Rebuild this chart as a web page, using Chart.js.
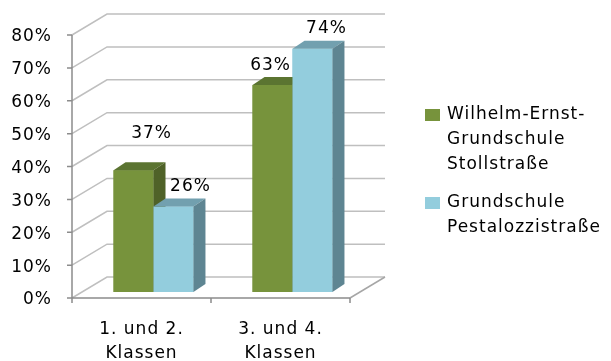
<!DOCTYPE html>
<html>
<head>
<meta charset="utf-8">
<script src="https://cdn.jsdelivr.net/npm/chart.js@4.4.1/dist/chart.umd.min.js"></script>
<style>
  html, body { margin: 0; padding: 0; background: #fff; }
</style>
</head>
<body>
<canvas id="chart" width="611" height="361"></canvas>
<script>
// data
const categories = [['1. und 2.', 'Klassen'], ['3. und 4.', 'Klassen']];
const seriesNames = [['Wilhelm-Ernst-', 'Grundschule', 'Stollstraße'], ['Grundschule', 'Pestalozzistraße']];
const wilhelmErnst = [37, 63];
const pestalozzi = [26, 74];
const yTicks = [0, 10, 20, 30, 40, 50, 60, 70, 80];

const FONT = 'DejaVu Sans';
const WALL = { x: 35, y: -21 };   // depth of the back wall
const BAR_SHIFT = { x: 12, y: -6 }; // bars sit a bit behind the front plane
const BAR_DEPTH = { x: 12, y: -8 };
const colors = [
  { front: '#77933C', top: '#5B7431', side: '#4F6228' },
  { front: '#93CDDD', top: '#72A0AF', side: '#5E8592' }
];
// small nudges for the value labels, like excel placed them
const labelNudge = [[[3, -17], [2, 0]], [[-17, 1], [-1, 0]]];

const frame3d = {
  id: 'frame3d',
  beforeDraw(chart) {
    // the original text is a bit spread out
    chart.ctx.letterSpacing = '1px';
  },
  beforeDatasetsDraw(chart) {
    const { ctx, chartArea: a, scales: { x, y } } = chart;
    ctx.save();
    // back wall + left wall grid
    ctx.strokeStyle = '#BFBFBF';
    ctx.lineWidth = 1.5;
    yTicks.forEach(v => {
      const py = y.getPixelForValue(v);
      ctx.beginPath();
      ctx.moveTo(a.left, py);
      ctx.lineTo(a.left + WALL.x, py + WALL.y);
      ctx.lineTo(a.right + WALL.x, py + WALL.y);
      ctx.stroke();
    });
    // floor
    const py0 = y.getPixelForValue(0);
    ctx.strokeStyle = '#A6A6A6';
    ctx.beginPath();
    ctx.moveTo(a.right, py0);
    ctx.lineTo(a.right + WALL.x, py0 + WALL.y);
    ctx.stroke();
    // front axes
    ctx.strokeStyle = '#8C8C8C';
    ctx.beginPath();
    ctx.moveTo(a.left, y.getPixelForValue(yTicks[yTicks.length - 1]));
    ctx.lineTo(a.left, py0);
    ctx.lineTo(a.right, py0);
    yTicks.forEach(v => {
      const py = y.getPixelForValue(v);
      ctx.moveTo(a.left - 5, py);
      ctx.lineTo(a.left, py);
    });
    const step = (a.right - a.left) / categories.length;
    for (let i = 0; i <= categories.length; i++) {
      ctx.moveTo(a.left + i * step, py0);
      ctx.lineTo(a.left + i * step, py0 + 5);
    }
    ctx.stroke();
    ctx.restore();

    ctx.save();
    ctx.translate(BAR_SHIFT.x, BAR_SHIFT.y);
  },
  afterDatasetsDraw(chart) {
    const { ctx } = chart;
    // redraw per series so the later series covers the earlier side faces
    chart.data.datasets.forEach((ds, di) => {
      const c = colors[di];
      chart.getDatasetMeta(di).data.forEach(el => {
        el.draw(ctx);
        const { x, y, base, width } = el.getProps(['x', 'y', 'base', 'width'], true);
        const l = x - width / 2, r = x + width / 2;
        ctx.fillStyle = c.top;
        ctx.beginPath();
        ctx.moveTo(l, y);
        ctx.lineTo(l + BAR_DEPTH.x, y + BAR_DEPTH.y);
        ctx.lineTo(r + BAR_DEPTH.x, y + BAR_DEPTH.y);
        ctx.lineTo(r, y);
        ctx.closePath();
        ctx.fill();
        ctx.fillStyle = c.side;
        ctx.beginPath();
        ctx.moveTo(r, y);
        ctx.lineTo(r + BAR_DEPTH.x, y + BAR_DEPTH.y);
        ctx.lineTo(r + BAR_DEPTH.x, base + BAR_DEPTH.y);
        ctx.lineTo(r, base);
        ctx.closePath();
        ctx.fill();
      });
    });
    // value labels
    ctx.fillStyle = '#000';
    ctx.font = '17px "' + FONT + '"';
    ctx.textAlign = 'center';
    ctx.textBaseline = 'middle';
    chart.data.datasets.forEach((ds, di) => {
      chart.getDatasetMeta(di).data.forEach((el, i) => {
        const n = labelNudge[i][di];
        ctx.fillText(ds.data[i] + '%', el.x + 15 + n[0], el.y - 20 + n[1]);
      });
    });
    ctx.restore();
  },
  afterDraw(chart) {
    // legend on the right
    const { ctx } = chart;
    ctx.save();
    ctx.font = '17px "' + FONT + '"';
    ctx.textBaseline = 'middle';
    ctx.textAlign = 'left';
    let ty = 115;
    chart.data.datasets.forEach((ds, di) => {
      ctx.fillStyle = colors[di].front;
      ctx.fillRect(425, ty - 6, 15, 12);
      ctx.fillStyle = '#000';
      ds.label.forEach((line, li) => {
        ctx.fillText(line, 447, ty + li * 25);
      });
      ty += ds.label.length * 25 + 13;
    });
    ctx.restore();
  }
};

new Chart(document.getElementById('chart'), {
  type: 'bar',
  data: {
    labels: categories,
    datasets: [
      { label: seriesNames[0], data: wilhelmErnst, backgroundColor: colors[0].front },
      { label: seriesNames[1], data: pestalozzi, backgroundColor: colors[1].front }
    ]
  },
  options: {
    responsive: false,
    animation: false,
    events: [],
    layout: { padding: { top: 35, right: 261, left: 0, bottom: 0 } },
    datasets: { bar: { categoryPercentage: 0.575, barPercentage: 1, clip: false } },
    plugins: {
      legend: { display: false },
      tooltip: { enabled: false }
    },
    scales: {
      x: {
        grid: { display: false, drawTicks: false },
        border: { display: false },
        ticks: {
          color: '#000',
          padding: 19,
          font: { family: FONT, size: 17, lineHeight: 1.45 },
          maxRotation: 0
        },
        afterFit(s) { s.height = 63; }
      },
      y: {
        min: yTicks[0],
        max: yTicks[yTicks.length - 1],
        grid: { display: false, drawTicks: false },
        border: { display: false },
        ticks: {
          stepSize: 10,
          color: '#000',
          padding: 20,
          labelOffset: 2,
          font: { family: FONT, size: 17 },
          callback: v => v + '%'
        },
        afterFit(s) { s.width = 72; }
      }
    }
  },
  plugins: [frame3d]
});
</script>
</body>
</html>
